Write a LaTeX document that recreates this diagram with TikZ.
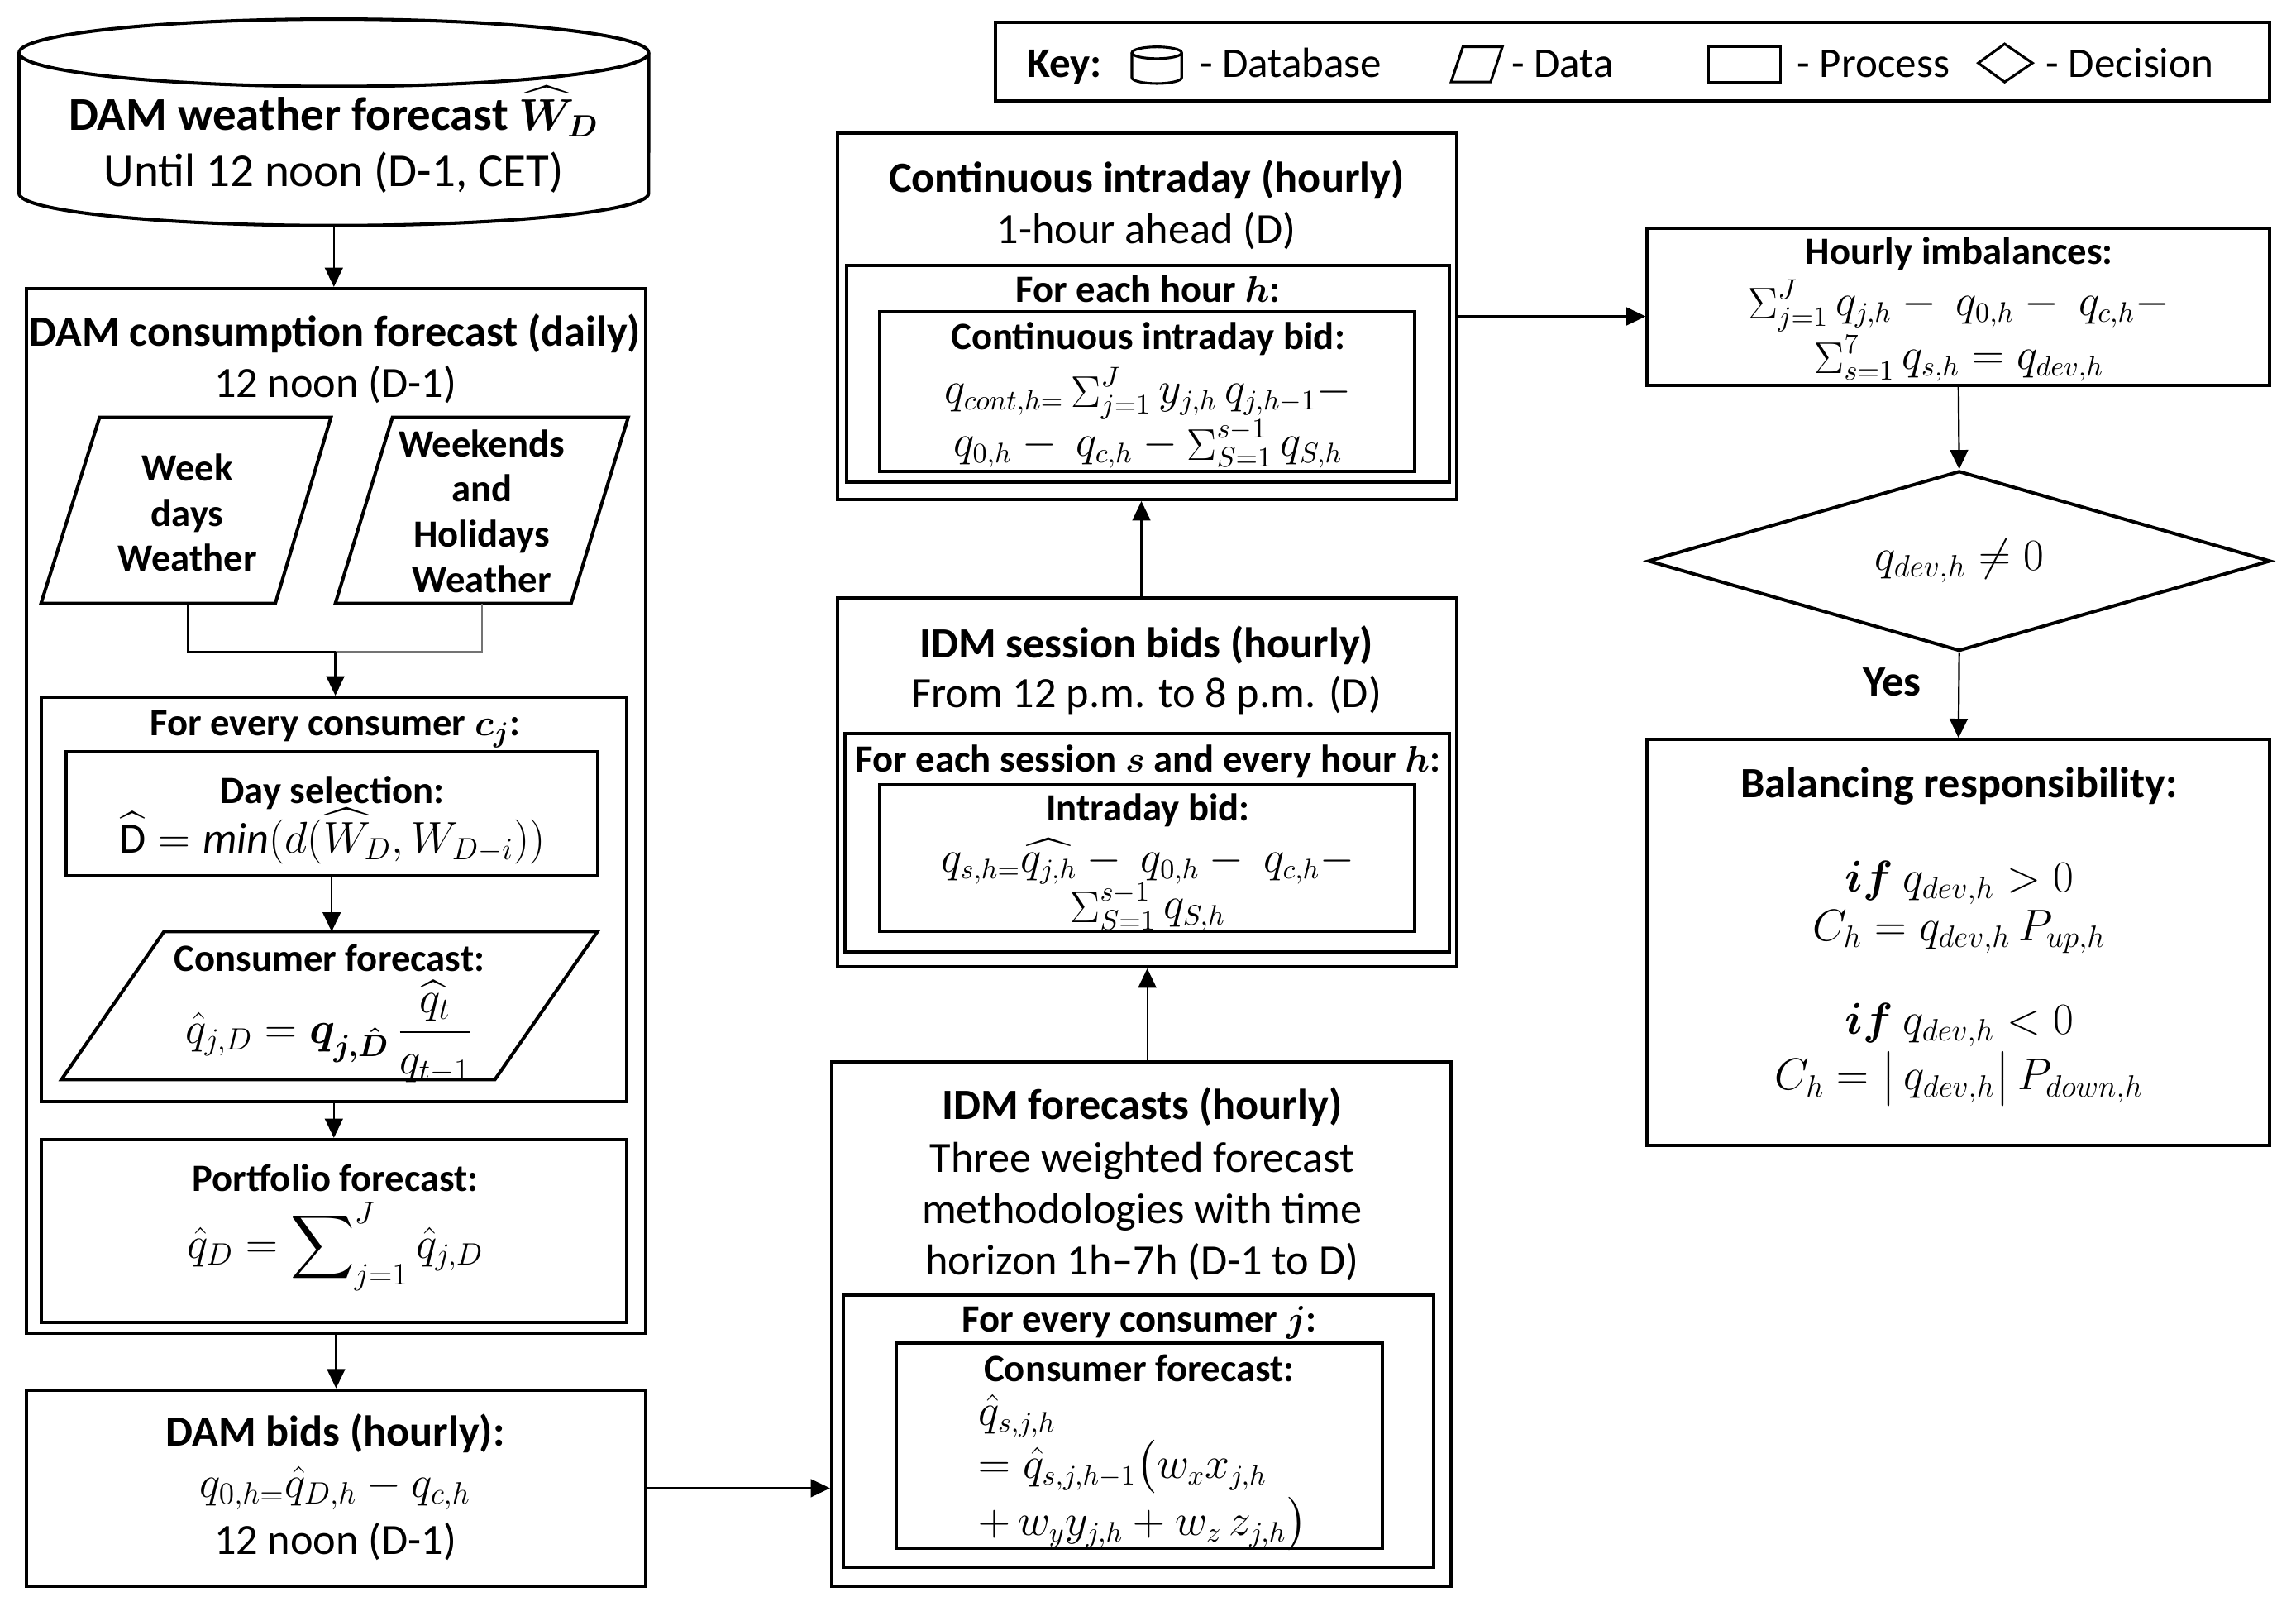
\documentclass[tikz,border=0pt]{standalone}
\usepackage{amsmath}
\usepackage{fontspec}
\setmainfont{Carlito}
\usetikzlibrary{arrows.meta,fit,shapes.geometric}
\newcommand\fszA{\fontsize{16.8}{20}\selectfont}
\newcommand\fszC{\fontsize{18.3}{21}\selectfont}
\newcommand\fszB{\fontsize{15}{17.6}\selectfont}
\newcommand\fszE{\fontsize{16.3}{19}\selectfont}
\newcommand\fszK{\fontsize{16.4}{19}\selectfont}
\newcommand\smsum{\mathop{\Sigma}\nolimits}
\begin{document}
\begin{tikzpicture}[x=0.02cm,y=-0.02cm,
 box/.style={draw, line width=1.3pt, inner sep=0pt},
 shp/.style={draw, line width=1.3pt},
 con/.style={line width=0.7pt},
 arr/.style={con, -{Triangle[length=7.5pt,width=7pt]}},
 tb/.style={inner sep=0pt, font=\fszA\bfseries, text height=10.6pt, text depth=0pt},
 tr/.style={inner sep=0pt, font=\fszA, text height=10.6pt, text depth=0pt},
 tm/.style={inner sep=0pt, font=\fszB\bfseries, text height=9.5pt, text depth=0pt},
 tml/.style={inner sep=0pt, font=\fszB\bfseries, align=center},
 eq/.style={inner sep=0pt, font=\fszA, text height=7pt, text depth=0pt},
 eqs/.style={inner sep=0pt, font=\fszE, text height=7pt, text depth=0pt},
 tk/.style={inner sep=0pt, font=\fszK, text height=10pt, text depth=0pt, anchor=west},
]
\useasboundingbox (0,0) rectangle (1568,1103);

% ---------------- Key ----------------
\node[box, fit={(680,15) (1550,69)}] (key) {};
\node[tk, font=\fszK\bfseries, anchor=center] (keyt) at (727,44) {Key:};
\draw[line width=1pt] (790,36) ellipse [x radius=0.34cm, y radius=0.08cm];
\draw[line width=1pt] (773,36) -- (773,53) arc[start angle=180,end angle=360,x radius=0.34cm,y radius=0.08cm] -- (807,36);
\node[tk] (keydb) at (819,44) {- Database};
\draw[line width=1pt] (991,56) -- (999,32) -- (1026,32) -- (1018,56) -- cycle;
\node[tk] (keyda) at (1032,44) {- Data};
\draw[line width=1pt] (1167,32) rectangle (1216,56);
\node[tk] (keypr) at (1227,44) {- Process};
\draw[line width=1pt] (1351,43) -- (1369,30) -- (1388,43) -- (1369,56) -- cycle;
\node[tk] (keyde) at (1397,44) {- Decision};

% ---------------- Left column ----------------
\draw[shp] (228,36) ellipse [x radius=4.3cm, y radius=0.46cm];
\draw[shp] (13,36) -- (13,132) arc[start angle=180,end angle=360,x radius=4.3cm,y radius=0.44cm] -- (443,36);
\node[fit={(13,13) (443,154)}, inner sep=0pt] (cyl) {};
\node[tb, font=\fszC\bfseries, text height=11.5pt] (cylt1) at (228,79) {DAM weather forecast $\boldsymbol{\widehat{W}_{D}}$};
\node[tr, font=\fszC, text height=11.5pt] (cylt2) at (228,117) {Until 12 noon (D-1, CET)};

\node[box, fit={(18,197) (441,910)}] (cons) {};
\node[tb] (const1) at (229,227) {DAM consumption forecast (daily)};
\node[tr] (const2) at (229,262) {12 noon (D-1)};

\draw[shp] (28,412) -- (68,285) -- (226,285) -- (188,412) -- cycle;
\node[tml] (wk) at (128,350) {Week\\days\\Weather};
\draw[shp] (229,412) -- (268,285) -- (429,285) -- (390,412) -- cycle;
\node[tml] (we) at (329,349) {Weekends\\and\\Holidays\\Weather};
\coordinate (p1b) at (128,412);
\coordinate (p2b) at (329,412);
\coordinate (pj) at (229,445);

\node[box, fit={(28,476) (428,752)}] (fe) {};
\node[tm] (fet) at (229,494) {For every consumer $\boldsymbol{c_{j}}$:};
\node[box, fit={(45,513) (408,598)}] (ds) {};
\node[tm] (dst) at (227,540) {Day selection:};
\node[eq] (dse) at (227,576) {$\widehat{\mathrm{D}}=\mathit{min}(d(\widehat{W}_{D},W_{D-i}))$};

\draw[shp] (42,737) -- (112,636) -- (408,636) -- (338,737) -- cycle;
\coordinate (cftop) at (229,636);
\node[tm] (cft) at (225,655) {Consumer forecast:};
\node[eq] (cfe) at (225,706) {$\hat{q}_{j,D}=\boldsymbol{q_{j,\hat{D}}}\,\dfrac{\widehat{q}_{t}}{q_{t-1}}$};

\node[box, fit={(28,778) (428,903)}] (pf) {};
\node[tm] (pft) at (229,805) {Portfolio forecast:};
\node[eq] (pfe) at (229,853) {$\hat{q}_{D}=\displaystyle\sum\nolimits_{j=1}^{J}\hat{q}_{j,D}$};

\node[box, fit={(18,949) (441,1083)}] (bids) {};
\node[tb] (bidst) at (229,978) {DAM bids (hourly):};
\node[eq] (bidse) at (229,1016) {$q_{0,h=}\hat{q}_{D,h}-q_{c,h}$};
\node[tr] (bidst2) at (229,1052) {12 noon (D-1)};

% ---------------- Middle column ----------------
\node[box, fit={(572,91) (995,341)}] (cont) {};
\node[tb] (contt1) at (783,122) {Continuous intraday (hourly)};
\node[tr] (contt2) at (783,157) {1-hour ahead (D)};
\node[box, fit={(578,181) (990,329)}] (eh) {};
\node[tm] (eht) at (784,198) {For each hour $\boldsymbol{h}$:};
\node[box, fit={(601,213) (966,322)}] (cb) {};
\node[tm] (cbt) at (784,230) {Continuous intraday bid:};
\node[eqs] (cbe1) at (784,269) {$q_{cont,h=}\smsum_{j=1}^{J}y_{j,h}\,q_{j,h-1}-$};
\node[eqs] (cbe2) at (784,305) {$q_{0,h}-\ q_{c,h}-\smsum_{S=1}^{s-1}q_{S,h}$};

\node[box, fit={(572,408) (995,660)}] (sess) {};
\node[tb] (sesst1) at (783,440) {IDM session bids (hourly)};
\node[tr] (sesst2) at (783,474) {From 12 p.m. to 8 p.m. (D)};
\node[box, fit={(577,501) (990,650)}] (es) {};
\node[tm] (est) at (784,519) {For each session $\boldsymbol{s}$ and every hour $\boldsymbol{h}$:};
\node[box, fit={(601,536) (966,636)}] (ib) {};
\node[tm] (ibt) at (784,552) {Intraday bid:};
\node[eqs] (ibe1) at (784,589) {$q_{s,h=}\widehat{q_{j,h}}-\ q_{0,h}-\ q_{c,h}-$};
\node[eqs] (ibe2) at (784,621) {$\smsum_{S=1}^{s-1}q_{S,h}$};

\node[box, fit={(568,725) (991,1083)}] (idmf) {};
\node[tb] (idmft1) at (780,755) {IDM forecasts (hourly)};
\node[tr] (idmft2) at (780,791) {Three weighted forecast};
\node[tr] (idmft3) at (780,826) {methodologies with time};
\node[tr] (idmft4) at (780,861) {horizon 1h--7h (D-1 to D)};
\node[box, fit={(576,884) (979,1070)}] (ej) {};
\node[tm] (ejt) at (778,901) {For every consumer $\boldsymbol{j}$:};
\node[box, fit={(612,917) (944,1057)}] (icf) {};
\node[tm] (icft) at (778,935) {Consumer forecast:};
\node[eqs, anchor=west] (icfe1) at (668,967) {$\hat{q}_{s,j,h}$};
\node[eqs, anchor=west] (icfe2) at (668,1003) {$=\hat{q}_{s,j,h-1}\bigl(w_{x}x_{j,h}$};
\node[eqs, anchor=west] (icfe3) at (668,1042) {$+\,w_{y}y_{j,h}+w_{z}\,z_{j,h}\bigr)$};

% ---------------- Right column ----------------
\node[box, fit={(1125,156) (1550,263)}] (hi) {};
\node[tm] (hit) at (1338,172) {Hourly imbalances:};
\node[eqs] (hie1) at (1338,209) {$\smsum_{j=1}^{J}q_{j,h}-\ q_{0,h}-\ q_{c,h}-$};
\node[eqs] (hie2) at (1338,246) {$\smsum_{s=1}^{7}q_{s,h}=q_{dev,h}$};

\node[diamond, shp, minimum width=8.5cm, minimum height=2.46cm, inner sep=0pt] (dia) at (1338,383) {};
\node[eq] (diat) at (1338,383) {$q_{dev,h}\neq 0$};
\node[tb] (yes) at (1292,466) {Yes};

\node[box, fit={(1125,505) (1550,782)}] (bal) {};
\node[tb] (balt) at (1338,535) {Balancing responsibility:};
\node[eq] (bale1) at (1338,603) {$\boldsymbol{if}\ q_{dev,h}>0$};
\node[eq] (bale2) at (1338,636) {$C_{h}=q_{dev,h}\,P_{up,h}$};
\node[eq] (bale3) at (1338,700) {$\boldsymbol{if}\ q_{dev,h}<0$};
\node[eq] (bale4) at (1338,738) {$C_{h}=\bigl|\,q_{dev,h}\bigr|\,P_{down,h}$};

% ---------------- Connectors ----------------
\draw[arr] (cyl.south) -- (cyl.south |- cons.north);
\draw[con] (p1b) -- (p1b |- pj) -- (pj);
\draw[con, black!55] (pj) -- (p2b |- pj) -- (p2b);
\draw[arr] (pj) -- (pj |- fe.north);
\draw[arr] (ds.south) -- (ds.south |- cftop);
\draw[arr] (fe.south) -- (fe.south |- pf.north);
\draw[arr] (cons.south) -- (cons.south |- bids.north);
\draw[arr] (bids.east) -- (bids.east -| idmf.west);
\draw[arr] (sess.south |- idmf.north) -- (sess.south);
\draw[arr] (idmf.north |- sess.north) -- (idmf.north |- cont.south);
\draw[arr] (cont.east) -- (cont.east -| hi.west);
\draw[arr] (hi.south) -- (dia.north);
\draw[arr] (dia.south) -- (bal.north);
\end{tikzpicture}
\end{document}
